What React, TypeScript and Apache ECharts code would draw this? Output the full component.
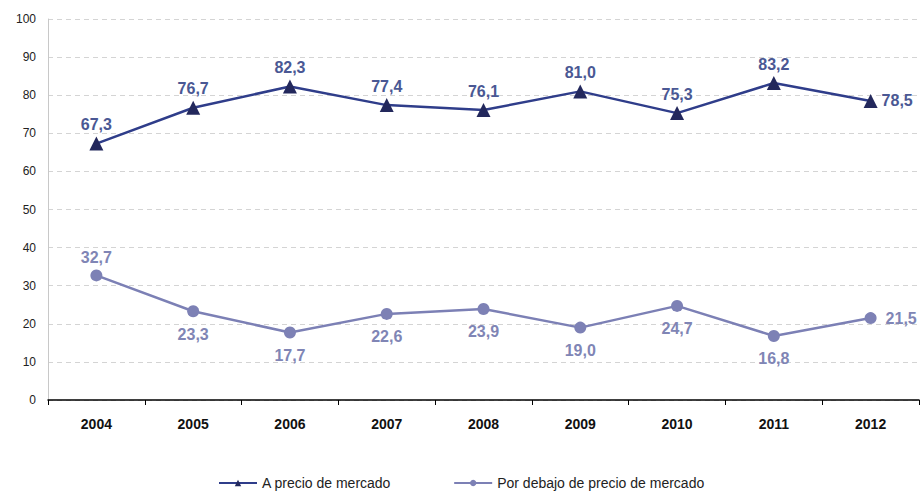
import React, { useEffect, useRef } from "react";
import * as echarts from "echarts";

const years = ["2004", "2005", "2006", "2007", "2008", "2009", "2010", "2011", "2012"];
const marketPrice = [67.3, 76.7, 82.3, 77.4, 76.1, 81.0, 75.3, 83.2, 78.5];
const belowMarket = [32.7, 23.3, 17.7, 22.6, 23.9, 19.0, 24.7, 16.8, 21.5];
const lowerLabelPos = ["top", "bottom", "bottom", "bottom", "bottom", "bottom", "bottom", "bottom", "right"];

const fmt = (v: number) => v.toFixed(1).replace(".", ",");

export default function App() {
  const ref = useRef<HTMLDivElement>(null);
  useEffect(() => {
    document.body.style.margin = "0";
    const chart = echarts.init(ref.current!, null, { renderer: "svg" });
    const font = "Liberation Sans, Arial, sans-serif";
    chart.setOption({
      animation: false,
      backgroundColor: "#ffffff",
      grid: { left: 48, right: 5, top: 19, bottom: 96 },
      legend: {
        left: 213,
        bottom: 1,
        itemWidth: 38,
        itemHeight: 8,
        itemGap: 62,
        textStyle: { fontFamily: font, fontSize: 14, color: "#222" },
        data: ["A precio de mercado", "Por debajo de precio de mercado"],
      },
      xAxis: {
        type: "category",
        data: years,
        boundaryGap: true,
        axisLine: { lineStyle: { color: "#000", width: 1.5 } },
        axisTick: { show: true, length: 5, lineStyle: { color: "#000" } },
        axisLabel: { fontFamily: font, fontSize: 14, fontWeight: "bold", color: "#111", margin: 17 },
      },
      yAxis: {
        type: "value",
        min: 0,
        max: 100,
        interval: 10,
        axisLine: { show: true, lineStyle: { color: "#c8c8c8" } },
        axisTick: { show: false },
        axisLabel: { fontFamily: font, fontSize: 12, color: "#222", margin: 12 },
        splitLine: { lineStyle: { color: "#d4d4d4", type: [5, 4] } },
      },
      series: [
        {
          name: "A precio de mercado",
          type: "line",
          data: marketPrice.map((v, i) => ({
            value: v,
            label: { position: i === marketPrice.length - 1 ? "right" : "top" },
          })),
          symbol: "triangle",
          symbolSize: 14,
          lineStyle: { color: "#2f3d8a", width: 2.5 },
          itemStyle: { color: "#23285c" },
          color: "#2f3d8a",
          label: {
            show: true,
            formatter: (p: any) => fmt(p.value),
            fontFamily: font,
            fontSize: 16,
            fontWeight: "bold",
            color: "#4a5894",
            distance: 4,
          },
        },
        {
          name: "Por debajo de precio de mercado",
          type: "line",
          data: belowMarket.map((v, i) => ({
            value: v,
            label: { position: lowerLabelPos[i], distance: lowerLabelPos[i] === "top" ? 4 : 9 },
          })),
          symbol: "circle",
          symbolSize: 12,
          lineStyle: { color: "#7c80b5", width: 2.5 },
          itemStyle: { color: "#7d81b5" },
          color: "#7c80b5",
          label: {
            show: true,
            formatter: (p: any) => fmt(p.value),
            fontFamily: font,
            fontSize: 16,
            fontWeight: "bold",
            color: "#8085b5",
            distance: 9,
          },
        },
      ],
    });
    return () => chart.dispose();
  }, []);
  return <div ref={ref} style={{ width: 924, height: 496 }} />;
}
